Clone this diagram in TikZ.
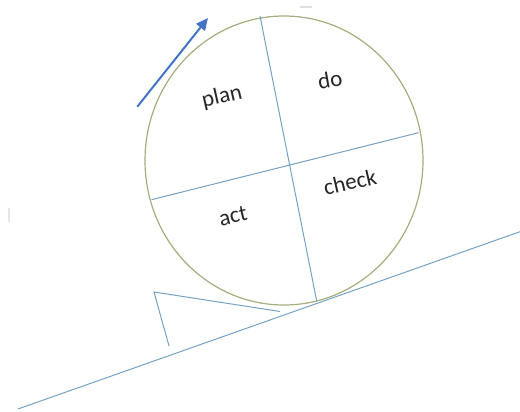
\documentclass[tikz,border=0pt]{standalone}
\usepackage{fontspec}
\setmainfont{Carlito}
\usetikzlibrary{arrows.meta}
\definecolor{rimcol}{HTML}{A2AE7C}
\definecolor{linecol}{HTML}{74A2C6}
\definecolor{arrowcol}{HTML}{4472C4}
\tikzset{
  rim/.style={draw=rimcol, line width=1.2pt},
  divider/.style={draw=linecol, line width=1pt},
  label/.style={font=\fontsize{23}{23}\selectfont, text=black!85, rotate=13, inner sep=0pt},
  motion/.style={draw=arrowcol, line width=2pt, -{Triangle[length=12pt,width=11pt]}}
}
\begin{document}
\begin{tikzpicture}[x=1pt,y=-1pt]
\useasboundingbox (0,0) rectangle (520,412);
% faint artifacts
\draw[black!12, line width=2pt] (300,7) -- (312,7);
\draw[black!10, line width=2pt] (9,208) -- (9,222);
% incline
\coordinate (inA) at (18,409);
\coordinate (inB) at (520,231.7);
\draw[divider] (inA) -- (inB);
% wedge
\coordinate (wA) at (280,311.5);
\coordinate (wB) at (154,292);
\coordinate (wC) at (169,346);
\draw[divider] (wA) -- (wB) -- (wC);
% wheel
\draw[rim] (284,160.5) ellipse [x radius=139, y radius=144.5];
\coordinate (vT) at (260,16);
\coordinate (vB) at (316.7,301);
\coordinate (hL) at (151.5,199.7);
\coordinate (hR) at (418.5,132.7);
\draw[divider] (vT) -- (vB);
\draw[divider] (hL) -- (hR);
% labels
\node[label] (plan) at (222,97) {plan};
\node[label, rotate=-3] (do) at (330,80) {do};
\node[label] (check) at (350,182) {check};
\node[label] (act) at (233,216) {act};
% arrow
\coordinate (arT) at (137.3,106.7);
\coordinate (arH) at (208,18);
\draw[motion] (arT) -- (arH);
\end{tikzpicture}
\end{document}
